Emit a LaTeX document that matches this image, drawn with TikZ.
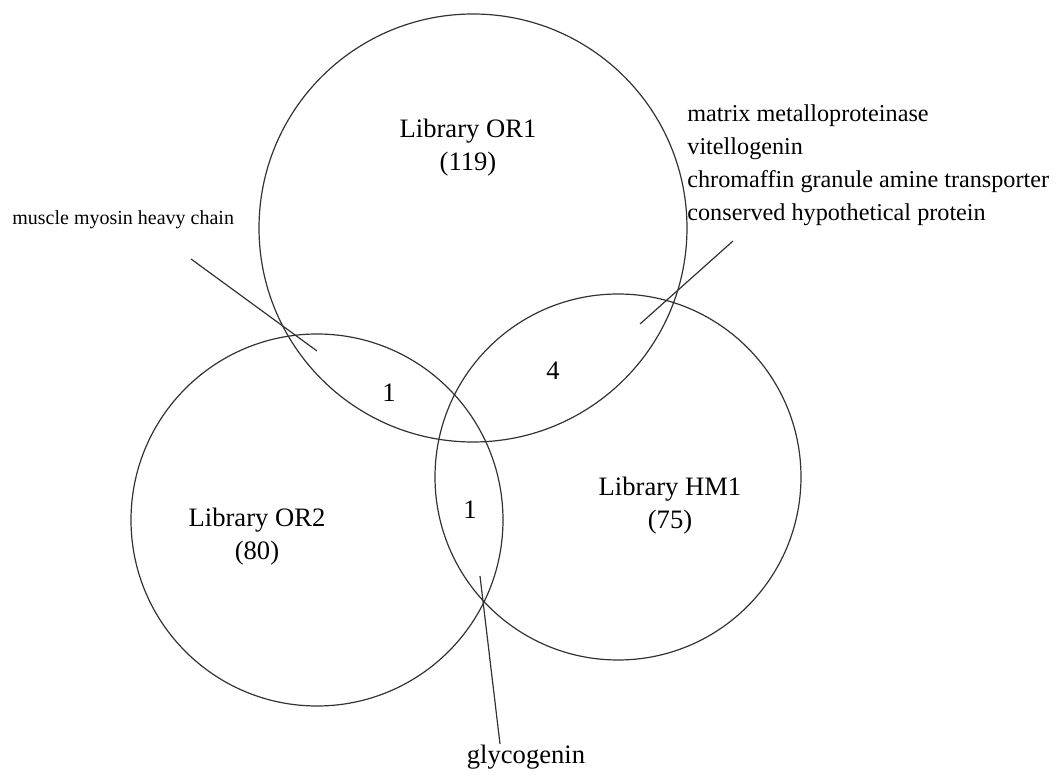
\documentclass[tikz,border=0pt]{standalone}
\usepackage{fontspec}
\setmainfont{Liberation Serif}
\begin{document}
\begin{tikzpicture}[x=.5pt, y=-.5pt]
  \tikzset{
    ring/.style={circle, draw=black!80, line width=.6pt, inner sep=0pt},
    libtext/.style={font=\fontsize{13.3}{16.5}\selectfont, align=center, inner sep=0pt},
    genetext/.style={font=\fontsize{12.1}{16.5}\selectfont, align=left, inner sep=0pt},
    leader/.style={draw=black!80, line width=.6pt}
  }
  \useasboundingbox (0,0) rectangle (1057,780);

  % the three libraries
  \node[ring, minimum size=214pt] (or1) at (473,228) {};
  \node[ring, minimum size=186pt] (or2) at (317,520) {};
  \node[ring, minimum size=183pt] (hm1) at (618,477) {};

  \node[libtext] (or1lab) at (468,148) {Library OR1\\(119)};
  \node[libtext] (or2lab) at (257,537) {Library OR2\\(80)};
  \node[libtext] (hm1lab) at (670,506) {Library HM1\\(75)};

  % shared counts
  \node[libtext] (n12) at (389,393) {1};
  \node[libtext] (n13) at (553,371) {4};
  \node[libtext] (n23) at (470,510) {1};

  % gene names
  \node[font=\fontsize{10}{12}\selectfont, anchor=west, inner sep=0pt] (myosin) at (12,220) {muscle myosin heavy chain};
  \node[genetext, anchor=west] (genes) at (687,165) {matrix metalloproteinase\\vitellogenin\\chromaffin granule amine transporter\\conserved hypothetical protein};
  \node[libtext] (glyco) at (526,757) {glycogenin};

  \coordinate (myoA) at (191,259);
  \coordinate (myoB) at (317,351);
  \coordinate (genA) at (733,241);
  \coordinate (genB) at (640,324);
  \coordinate (glyA) at (480,576);
  \coordinate (glyB) at (500,744);
  \draw[leader] (myoA) -- (myoB);
  \draw[leader] (genA) -- (genB);
  \draw[leader] (glyA) -- (glyB);
\end{tikzpicture}
\end{document}
